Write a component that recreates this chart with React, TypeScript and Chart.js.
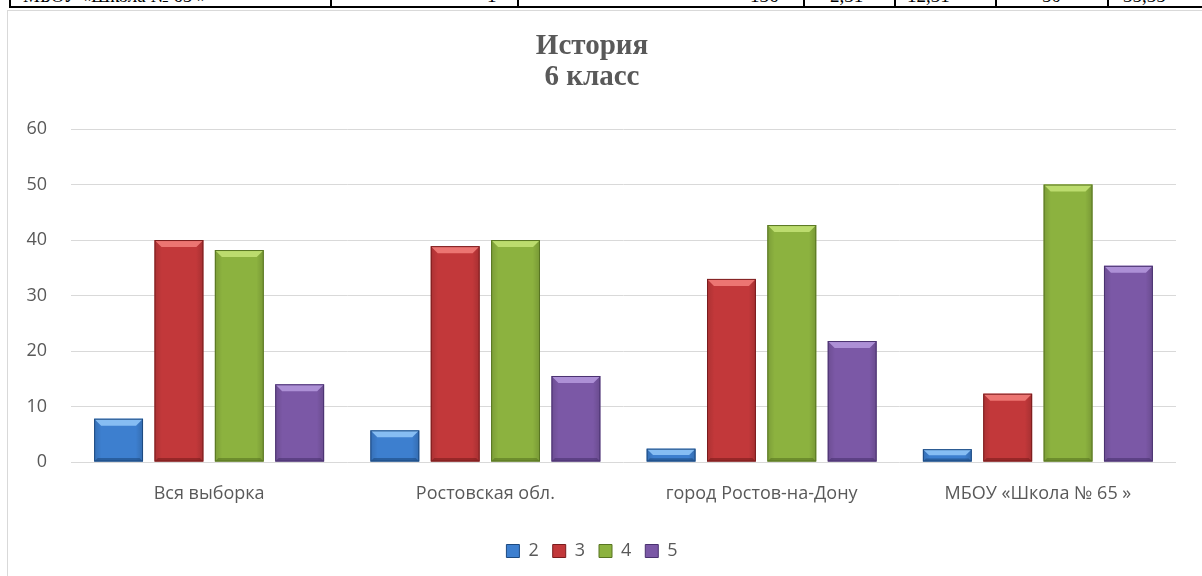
import React, { useEffect, useRef } from "react";
import { Chart, registerables } from "chart.js";

Chart.register(...registerables);

const categories = ["Вся выборка", "Ростовская обл.", "город Ростов-на-Дону", "МБОУ «Школа № 65 »"];
const seriesNames = ["2", "3", "4", "5"];
const grade2 = [7.8, 5.7, 2.4, 2.31];
const grade3 = [40.0, 38.9, 33.0, 12.31];
const grade4 = [38.2, 40.0, 42.7, 50.0];
const grade5 = [14.0, 15.5, 21.8, 35.35];
const yTicks = [0, 10, 20, 30, 40, 50, 60];
const titleLines = ["История", "6 класс"];

const tableCells = ["МБОУ «Школа № 65 »", "1", "136", "2,31", "12,31", "50", "35,35"];

const palette = [
  { main: "#3d7fcf", light: "#86bdf3", dark: "#1d4a80" },
  { main: "#c2383a", light: "#ec7572", dark: "#7a1c1d" },
  { main: "#8cb23f", light: "#bcdc6e", dark: "#587522" },
  { main: "#7b58a6", light: "#ad90d6", dark: "#4a3270" },
];

const bevelPlugin = {
  id: "bevel",
  afterDatasetsDraw(chart: any) {
    const ctx = chart.ctx;
    chart.data.datasets.forEach((ds: any, di: number) => {
      const meta = chart.getDatasetMeta(di);
      const col = palette[di];
      meta.data.forEach((el: any) => {
        const p = el.getProps(["x", "y", "base", "width"], true);
        const l = p.x - p.width / 2;
        const r = p.x + p.width / 2;
        const t = Math.min(p.y, p.base);
        const b = Math.max(p.y, p.base);
        const h = b - t;
        const bv = Math.min(7, h / 2);
        ctx.save();
        const g = ctx.createLinearGradient(l, 0, r, 0);
        g.addColorStop(0, "rgba(0,0,0,0.12)");
        g.addColorStop(0.15, "rgba(0,0,0,0)");
        g.addColorStop(0.85, "rgba(0,0,0,0)");
        g.addColorStop(1, "rgba(0,0,0,0.15)");
        ctx.fillStyle = g;
        ctx.fillRect(l, t, r - l, h);
        ctx.beginPath();
        ctx.moveTo(l, t);
        ctx.lineTo(r, t);
        ctx.lineTo(r - bv, t + bv);
        ctx.lineTo(l + bv, t + bv);
        ctx.closePath();
        ctx.fillStyle = col.light;
        ctx.fill();
        ctx.beginPath();
        ctx.moveTo(l, b);
        ctx.lineTo(r, b);
        ctx.lineTo(r - bv * 0.5, b - bv * 0.5);
        ctx.lineTo(l + bv * 0.5, b - bv * 0.5);
        ctx.closePath();
        ctx.fillStyle = col.dark;
        ctx.globalAlpha = 0.6;
        ctx.fill();
        ctx.globalAlpha = 1;
        ctx.strokeStyle = col.dark;
        ctx.lineWidth = 1;
        ctx.strokeRect(l + 0.5, t + 0.5, r - l - 1, h - 1);
        ctx.restore();
      });
    });
  },
};

export default function App() {
  const ref = useRef<HTMLCanvasElement | null>(null);

  useEffect(() => {
    if (!ref.current) return;
    const series = [grade2, grade3, grade4, grade5];
    const axisFont = { family: "'Open Sans', sans-serif", size: 18 };
    const chart = new Chart(ref.current, {
      type: "bar",
      data: {
        labels: categories,
        datasets: series.map((d, i) => ({
          label: seriesNames[i],
          data: d,
          backgroundColor: palette[i].main,
          borderColor: palette[i].dark,
          borderWidth: 0,
          categoryPercentage: 0.874,
          barPercentage: 0.81,
        })),
      },
      options: {
        responsive: false,
        animation: false,
        devicePixelRatio: 1,
        layout: { padding: { left: 0, right: 26, top: 0, bottom: 6 } },
        plugins: {
          tooltip: { enabled: false },
          title: {
            display: true,
            text: titleLines,
            color: "#595959",
            font: { family: "'Liberation Serif', 'Times New Roman', serif", size: 29, weight: "bold", lineHeight: 1.07 },
            padding: { top: 20, bottom: 36 },
          },
          legend: {
            display: true,
            position: "bottom",
            labels: {
              color: "#595959",
              font: axisFont,
              boxWidth: 13,
              boxHeight: 13,
              padding: 14,
              generateLabels: (c: any) =>
                c.data.datasets.map((ds: any, i: number) => ({
                  text: ds.label,
                  fillStyle: palette[i].main,
                  strokeStyle: palette[i].dark,
                  lineWidth: 1,
                  fontColor: "#595959",
                  datasetIndex: i,
                  hidden: false,
                })),
            },
          },
        },
        scales: {
          x: {
            grid: { display: false },
            border: { display: false },
            ticks: {
              color: "#595959",
              font: axisFont,
              padding: 13,
              maxRotation: 0,
            },
            afterFit: (s: any) => {
              s.height = 66;
            },
          },
          y: {
            min: 0,
            max: 60,
            afterBuildTicks: (s: any) => {
              s.ticks = yTicks.map((v) => ({ value: v }));
            },
            grid: { color: "#d9d9d9", lineWidth: 1, drawTicks: false },
            border: { display: false },
            ticks: {
              color: "#595959",
              font: axisFont,
              padding: 24,
            },
            afterFit: (s: any) => {
              s.width = 63;
            },
          },
        },
      },
      plugins: [bevelPlugin],
    });
    return () => chart.destroy();
  }, []);

  const dividers = [9, 330, 517, 803, 894, 995, 1107];
  const cellText = [
    { x: 23, t: tableCells[0] },
    { x: 487, t: tableCells[1] },
    { x: 750, t: tableCells[2] },
    { x: 830, t: tableCells[3] },
    { x: 907, t: tableCells[4] },
    { x: 1042, t: tableCells[5] },
    { x: 1123, t: tableCells[6] },
  ];

  return (
    <div style={{ position: "fixed", left: 0, top: 0, width: 1202, height: 576, background: "#fff", overflow: "hidden" }}>
      <div style={{ position: "absolute", left: 0, top: 0, width: 1202, height: 8, overflow: "hidden" }}>
        {cellText.map((c, i) => (
          <span
            key={i}
            style={{
              position: "absolute",
              left: c.x,
              top: -14,
              fontFamily: "'Liberation Serif', 'Times New Roman', serif",
              fontSize: 19,
              lineHeight: "19px",
              color: "#000",
              whiteSpace: "nowrap",
            }}
          >
            {c.t}
          </span>
        ))}
        {dividers.map((x, i) => (
          <div key={i} style={{ position: "absolute", left: x, top: 0, width: 2, height: 8, background: "#000" }} />
        ))}
        <div style={{ position: "absolute", left: 9, top: 6, width: 1193, height: 2, background: "#000" }} />
      </div>
      <div
        style={{
          position: "absolute",
          left: 7,
          top: 10,
          width: 1210,
          height: 600,
          border: "1px solid #d9d9d9",
          boxSizing: "border-box",
        }}
      />
      <canvas ref={ref} width={1194} height={565} style={{ position: "absolute", left: 8, top: 11, width: 1194, height: 565 }} />
    </div>
  );
}
